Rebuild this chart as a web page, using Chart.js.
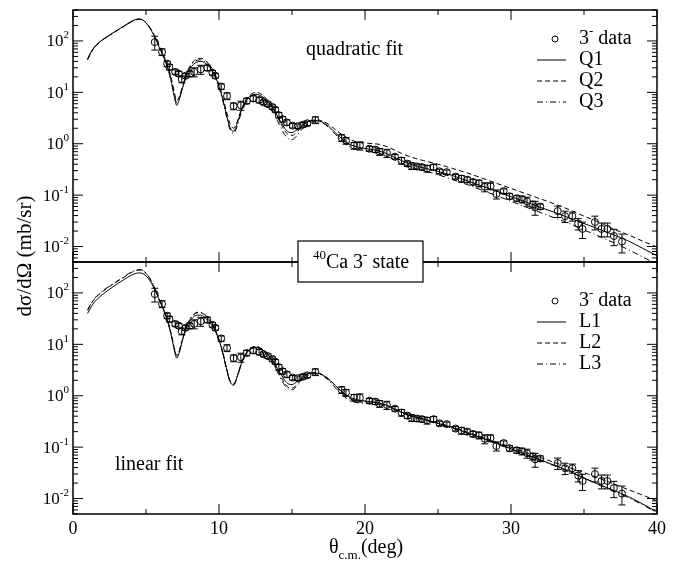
<!DOCTYPE html>
<html>
<head>
<meta charset="utf-8">
<script src="https://cdn.jsdelivr.net/npm/chart.js@4.4.1/dist/chart.umd.min.js"></script>
<style>
  html, body { margin: 0; padding: 0; background: #fff; }
  #wrap { position: relative; width: 683px; height: 562px; background: #fff; }
  canvas { position: absolute; left: 0; top: 0; }
</style>
</head>
<body>
<div id="wrap">
  <canvas id="topChart" width="683" height="562"></canvas>
  <canvas id="botChart" width="683" height="562"></canvas>
</div>
<script>
// ---------- data: 3- data points (theta in deg, dsigma/dOmega in mb/sr, relative error) ----------
const theta = [5.6, 6.1, 6.45, 6.6, 7.0, 7.25, 7.45, 7.7, 8.0, 8.3, 8.75, 9.2, 9.55, 9.75, 10.15, 10.55,
  11.0, 11.5, 11.9, 12.35, 12.75, 13.05, 13.35, 13.65, 13.85, 14.1, 14.35, 14.65, 15.05, 15.4, 15.75, 16.05,
  16.6, 18.4, 18.7, 19.25, 19.65, 20.3, 20.7, 21.0, 21.5, 22.05, 22.5, 22.9, 23.2, 23.55, 23.9, 24.25,
  24.7, 25.1, 25.6, 26.2, 26.6, 27.0, 27.4, 27.8, 28.2, 28.6, 29.0, 29.5, 29.9, 30.4, 30.75, 31.1,
  31.5, 31.65, 32.0, 33.2, 33.7, 34.2, 34.6, 34.9, 35.75, 36.2, 36.6, 37.05, 37.6];
const sigma = [95, 61, 36, 31, 25, 23, 18, 21, 23, 25, 28, 30, 24, 21, 13, 8.5,
  5.4, 5.6, 6.8, 7.6, 7.1, 6.4, 5.9, 5.2, 4.6, 3.6, 3.0, 2.6, 2.25, 2.2, 2.35, 2.5,
  2.9, 1.3, 1.15, 0.92, 0.92, 0.8, 0.77, 0.7, 0.66, 0.56, 0.47, 0.41, 0.37, 0.36, 0.35, 0.33,
  0.35, 0.29, 0.28, 0.23, 0.21, 0.2, 0.18, 0.17, 0.145, 0.15, 0.105, 0.12, 0.095, 0.087, 0.083, 0.076,
  0.066, 0.058, 0.06, 0.049, 0.039, 0.039, 0.028, 0.022, 0.03, 0.022, 0.022, 0.016, 0.0125];
const sigmaErr = [0.3, 0.15, 0.12, 0.12, 0.1, 0.1, 0.15, 0.1, 0.12, 0.2, 0.2, 0.12, 0.1, 0.1, 0.12, 0.15,
  0.15, 0.2, 0.12, 0.12, 0.12, 0.1, 0.1, 0.1, 0.1, 0.12, 0.12, 0.12, 0.1, 0.1, 0.1, 0.1,
  0.15, 0.15, 0.15, 0.15, 0.18, 0.1, 0.12, 0.15, 0.18, 0.1, 0.15, 0.12, 0.15, 0.12, 0.12, 0.15,
  0.12, 0.1, 0.1, 0.1, 0.15, 0.12, 0.12, 0.15, 0.2, 0.15, 0.2, 0.1, 0.12, 0.12, 0.15, 0.2,
  0.15, 0.3, 0.12, 0.25, 0.25, 0.2, 0.25, 0.35, 0.3, 0.3, 0.3, 0.35, 0.4];

// ---------- data: calculated curves ----------
const curveTheta = [1, 1.25, 1.5, 2, 2.5, 3, 3.5, 4, 4.5, 4.75, 5, 5.25, 5.5, 5.75, 6, 6.25, 6.5, 6.75, 7, 7.1,
  7.25, 7.5, 7.75, 8, 8.25, 8.5, 8.75, 9, 9.25, 9.5, 9.75, 10, 10.25, 10.5, 10.75, 11, 11.25, 11.5, 11.75, 12,
  12.25, 12.5, 12.75, 13, 13.25, 13.5, 13.75, 14, 14.25, 14.5, 14.75, 15, 15.25, 15.5, 15.75, 16,
  16.5, 17, 17.5, 18, 18.5, 19, 19.5, 20, 20.5, 21, 21.5, 22, 22.5, 23,
  24, 25, 26, 27, 28, 29, 30, 31, 32, 33, 34, 35, 36, 37, 38, 39, 40];
const q1 = [45, 62, 78, 105, 130, 160, 195, 240, 268, 258, 225, 180, 135, 95, 65, 45, 29, 15, 6.8, 5.6,
  6.8, 12, 20, 28, 35, 39, 40, 38, 33, 27, 20, 13, 7.5, 3.8, 2.1, 1.75, 2.5, 4.2, 6.2, 7.8,
  8.8, 9.2, 8.9, 8.1, 7.1, 5.9, 4.6, 3.5, 2.6, 2.0, 1.7, 1.65, 1.8, 2.05, 2.35, 2.6,
  2.85, 2.7, 2.2, 1.6, 1.2, 0.96, 0.86, 0.81, 0.77, 0.72, 0.64, 0.55, 0.47, 0.41,
  0.34, 0.29, 0.24, 0.19, 0.15, 0.12, 0.093, 0.074, 0.058, 0.046, 0.036, 0.028, 0.022, 0.017, 0.013, 0.0093, 0.0066];
const q2 = [43, 60, 76, 103, 128, 158, 192, 236, 262, 255, 226, 186, 142, 102, 71, 49, 32, 18, 8.5, 7,
  7.8, 13, 22, 32, 40, 45, 46, 43, 37, 30, 22, 14, 8.2, 4.4, 2.5, 2.0, 2.7, 4.4, 6.4, 8.2,
  9.4, 10, 9.7, 8.8, 7.5, 6.1, 4.7, 3.4, 2.4, 1.8, 1.5, 1.45, 1.6, 1.9, 2.25, 2.55,
  2.9, 2.8, 2.4, 1.85, 1.45, 1.2, 1.08, 1.03, 1.01, 0.97, 0.88, 0.76, 0.65, 0.57,
  0.47, 0.40, 0.33, 0.27, 0.215, 0.17, 0.135, 0.107, 0.085, 0.067, 0.052, 0.039, 0.030, 0.022, 0.017, 0.0128, 0.0098];
const q3 = [44, 61, 77, 104, 129, 159, 194, 238, 265, 257, 226, 183, 138, 98, 68, 47, 30, 16, 7.6, 6.3,
  7.2, 12.5, 21, 30, 38, 42, 43, 40, 35, 28, 20, 12.5, 7, 3.5, 1.9, 1.6, 2.2, 3.8, 5.8, 7.5,
  8.6, 9.0, 8.6, 7.7, 6.5, 5.2, 3.9, 2.8, 2.0, 1.5, 1.25, 1.2, 1.35, 1.65, 2.0, 2.35,
  2.7, 2.6, 2.1, 1.5, 1.08, 0.86, 0.77, 0.73, 0.70, 0.65, 0.57, 0.49, 0.42, 0.36,
  0.30, 0.25, 0.20, 0.16, 0.125, 0.098, 0.076, 0.059, 0.046, 0.036, 0.028, 0.021, 0.016, 0.012, 0.0088, 0.0063, 0.0045];
const l1 = [40, 54, 68, 92, 118, 148, 182, 222, 245, 240, 215, 176, 132, 93, 63, 43, 27, 14, 6.5, 5.4,
  6.5, 12, 20, 28, 34, 37, 37, 34, 29, 24, 18, 12, 7, 3.5, 1.9, 1.6, 2.4, 4.0, 5.9, 7.4,
  8.4, 8.8, 8.5, 7.8, 6.8, 5.7, 4.5, 3.4, 2.6, 2.0, 1.7, 1.65, 1.8, 2.05, 2.35, 2.6,
  2.8, 2.6, 2.1, 1.55, 1.15, 0.92, 0.83, 0.79, 0.76, 0.72, 0.65, 0.56, 0.48, 0.42,
  0.35, 0.29, 0.24, 0.19, 0.15, 0.12, 0.093, 0.073, 0.057, 0.044, 0.034, 0.025, 0.019, 0.0145, 0.011, 0.0079, 0.0055];
const l2 = [46, 62, 78, 105, 133, 165, 203, 250, 278, 272, 240, 192, 142, 98, 66, 45, 28, 15, 7.2, 6.0,
  7.0, 12.5, 21, 30, 37, 41, 41, 38, 32, 26, 19, 12.5, 7.2, 3.6, 2.0, 1.7, 2.4, 4.0, 6.0, 7.6,
  8.7, 9.1, 8.8, 8.0, 6.9, 5.6, 4.3, 3.2, 2.3, 1.75, 1.45, 1.4, 1.55, 1.85, 2.2, 2.5,
  2.8, 2.65, 2.15, 1.55, 1.12, 0.88, 0.8, 0.77, 0.75, 0.71, 0.645, 0.56, 0.485, 0.425,
  0.355, 0.295, 0.245, 0.196, 0.157, 0.126, 0.099, 0.079, 0.063, 0.050, 0.040, 0.032, 0.025, 0.0195, 0.015, 0.0117, 0.009];
const l3 = [47, 63, 80, 108, 136, 168, 207, 255, 285, 278, 245, 195, 144, 99, 66, 44, 27, 14.5, 7.0, 6.0,
  7.0, 12.5, 21, 31, 38, 42, 42, 39, 33, 26, 19, 12, 6.8, 3.4, 1.9, 1.65, 2.3, 3.9, 5.9, 7.5,
  8.6, 9.0, 8.6, 7.8, 6.6, 5.3, 4.0, 2.9, 2.1, 1.6, 1.35, 1.3, 1.45, 1.75, 2.1, 2.4,
  2.7, 2.55, 2.0, 1.4, 1.0, 0.8, 0.73, 0.71, 0.70, 0.67, 0.62, 0.54, 0.47, 0.41,
  0.34, 0.285, 0.235, 0.186, 0.147, 0.117, 0.091, 0.071, 0.055, 0.043, 0.033, 0.025, 0.0185, 0.014, 0.0105, 0.0076, 0.0053];

// ---------- axes ----------
const xTicks = [0, 10, 20, 30, 40];
const xMinorStep = 5;
const yTicks = [0.01, 0.1, 1, 10, 100];
const yTickExp = ['-2', '-1', '0', '1', '2'];
const yMin = 0.005, yMax = 400;

const FONT = '"Liberation Serif", "Times New Roman", serif';

function pts(xs, ys) {
  return xs.map((x, i) => ({ x: x, y: ys[i] }));
}

// text with superscript / subscript pieces
function richText(ctx, x, y, parts, size, align) {
  const small = Math.round(size * 0.65);
  let w = 0;
  parts.forEach(p => {
    ctx.font = ((p.sup || p.sub) ? small : size) + 'px ' + FONT;
    w += ctx.measureText(p.t).width;
  });
  let cx = align === 'center' ? x - w / 2 : (align === 'right' ? x - w : x);
  ctx.textAlign = 'left';
  ctx.textBaseline = 'middle';
  parts.forEach(p => {
    ctx.font = ((p.sup || p.sub) ? small : size) + 'px ' + FONT;
    const dy = p.sup ? -size * 0.38 : (p.sub ? size * 0.4 : 0);
    ctx.fillText(p.t, cx, y + dy);
    cx += ctx.measureText(p.t).width;
  });
}

function seg(ctx, x1, y1, x2, y2) {
  ctx.beginPath();
  ctx.moveTo(x1, y1);
  ctx.lineTo(x2, y2);
  ctx.stroke();
}

// error bars for the data set
const errorBars = {
  id: 'errorBars',
  afterDatasetsDraw(chart) {
    const { ctx, scales: { x, y } } = chart;
    ctx.save();
    ctx.strokeStyle = '#000';
    ctx.lineWidth = 1;
    theta.forEach((t, i) => {
      const px = x.getPixelForValue(t);
      const lo = y.getPixelForValue(sigma[i] * (1 - sigmaErr[i]));
      const hi = y.getPixelForValue(sigma[i] * (1 + sigmaErr[i]));
      seg(ctx, px, lo, px, hi);
      seg(ctx, px - 3.5, lo, px + 3.5, lo);
      seg(ctx, px - 3.5, hi, px + 3.5, hi);
    });
    ctx.restore();
  }
};

// frame, inward ticks, tick labels, legend and notes
const frame = {
  id: 'frame',
  afterDraw(chart, args, opts) {
    const { ctx, chartArea: a, scales: { x, y } } = chart;
    ctx.save();
    ctx.strokeStyle = '#000';
    ctx.fillStyle = '#000';
    ctx.lineWidth = 1;
    // x ticks top and bottom
    for (let v = xTicks[0]; v <= xTicks[xTicks.length - 1]; v += xMinorStep) {
      const px = x.getPixelForValue(v);
      const len = xTicks.includes(v) ? 10 : 5;
      seg(ctx, px, a.bottom, px, a.bottom - len);
      seg(ctx, px, a.top, px, a.top + len);
    }
    // y ticks left and right (log minors)
    for (let k = -3; k <= 2; k++) {
      for (let m = 1; m <= 9; m++) {
        const v = m * Math.pow(10, k);
        if (v < yMin || v > yMax) continue;
        const py = y.getPixelForValue(v);
        const len = m === 1 ? 10 : 5;
        seg(ctx, a.left, py, a.left + len, py);
        seg(ctx, a.right, py, a.right - len, py);
      }
    }
    ctx.lineWidth = 1.5;
    ctx.strokeRect(a.left, a.top, a.right - a.left, a.bottom - a.top);

    // y tick labels
    yTicks.forEach((v, i) => {
      richText(ctx, a.left - 4, y.getPixelForValue(v) + 1, [{ t: '10' }, { t: yTickExp[i], sup: true }], 17, 'right');
    });
    // x tick labels
    if (opts.xLabels) {
      ctx.font = '18px ' + FONT;
      ctx.textAlign = 'center';
      ctx.textBaseline = 'middle';
      xTicks.forEach(v => ctx.fillText(String(v), x.getPixelForValue(v), a.bottom + 15));
    }

    // legend
    const lg = opts.legend;
    ctx.lineWidth = 1;
    ctx.beginPath();
    ctx.arc(555, lg.y, 3, 0, Math.PI * 2);
    ctx.stroke();
    richText(ctx, 579, lg.y, [{ t: '3' }, { t: '-', sup: true }, { t: ' data' }], 20, 'left');
    lg.labels.forEach((lab, i) => {
      const ly = lg.y + 21 * (i + 1);
      ctx.setLineDash(lg.dashes[i]);
      seg(ctx, 537, ly, 566, ly);
      ctx.setLineDash([]);
      richText(ctx, 579, ly, [{ t: lab }], 20, 'left');
    });

    // note text
    richText(ctx, opts.note.x, opts.note.y, [{ t: opts.note.text }], 20, 'left');

    if (opts.xLabels) {
      // x axis title
      richText(ctx, 366, 548, [{ t: 'θ' }, { t: 'c.m.', sub: true }, { t: '(deg)' }], 20, 'center');
      // y axis title
      ctx.save();
      ctx.translate(25, 256);
      ctx.rotate(-Math.PI / 2);
      richText(ctx, 0, 0, [{ t: 'dσ/dΩ (mb/sr)' }], 21, 'center');
      ctx.restore();
      // state box across both panels
      ctx.fillStyle = '#fff';
      ctx.fillRect(298, 241, 125, 41);
      ctx.lineWidth = 1.2;
      ctx.strokeRect(298, 241, 125, 41);
      ctx.fillStyle = '#000';
      richText(ctx, 361, 263, [{ t: '40', sup: true }, { t: 'Ca 3' }, { t: '-', sup: true }, { t: ' state' }], 20, 'center');
    }
    ctx.restore();
  }
};

const dashes = [[], [5, 3], [6, 3, 1, 3]];

function makeChart(id, padTop, padBottom, curves, labels, note, xLabels, legendY) {
  const datasets = [{
    data: pts(theta, sigma),
    showLine: false,
    pointStyle: 'circle',
    pointRadius: 3.5,
    pointBorderWidth: 1,
    pointBorderColor: '#000',
    pointBackgroundColor: 'rgba(0,0,0,0)'
  }];
  curves.forEach((c, i) => {
    datasets.push({
      data: pts(curveTheta, c),
      showLine: true,
      borderColor: '#000',
      borderWidth: 1,
      borderDash: dashes[i],
      pointRadius: 0,
      cubicInterpolationMode: 'monotone',
      fill: false
    });
  });
  return new Chart(document.getElementById(id), {
    type: 'scatter',
    data: { datasets: datasets },
    options: {
      responsive: false,
      animation: false,
      events: [],
      layout: { padding: { top: padTop, bottom: padBottom, left: 73, right: 26 } },
      scales: {
        x: { type: 'linear', min: 0, max: 40, display: false },
        y: { type: 'logarithmic', min: yMin, max: yMax, display: false }
      },
      plugins: {
        legend: { display: false },
        tooltip: { enabled: false },
        frame: { legend: { y: legendY, labels: labels, dashes: dashes }, note: note, xLabels: xLabels }
      }
    },
    plugins: [errorBars, frame]
  });
}

makeChart('topChart', 10, 300, [q1, q2, q3], ['Q1', 'Q2', 'Q3'],
  { text: 'quadratic fit', x: 306, y: 50 }, false, 39);
makeChart('botChart', 262, 48, [l1, l2, l3], ['L1', 'L2', 'L3'],
  { text: 'linear fit', x: 115, y: 465 }, true, 301);
</script>
</body>
</html>
